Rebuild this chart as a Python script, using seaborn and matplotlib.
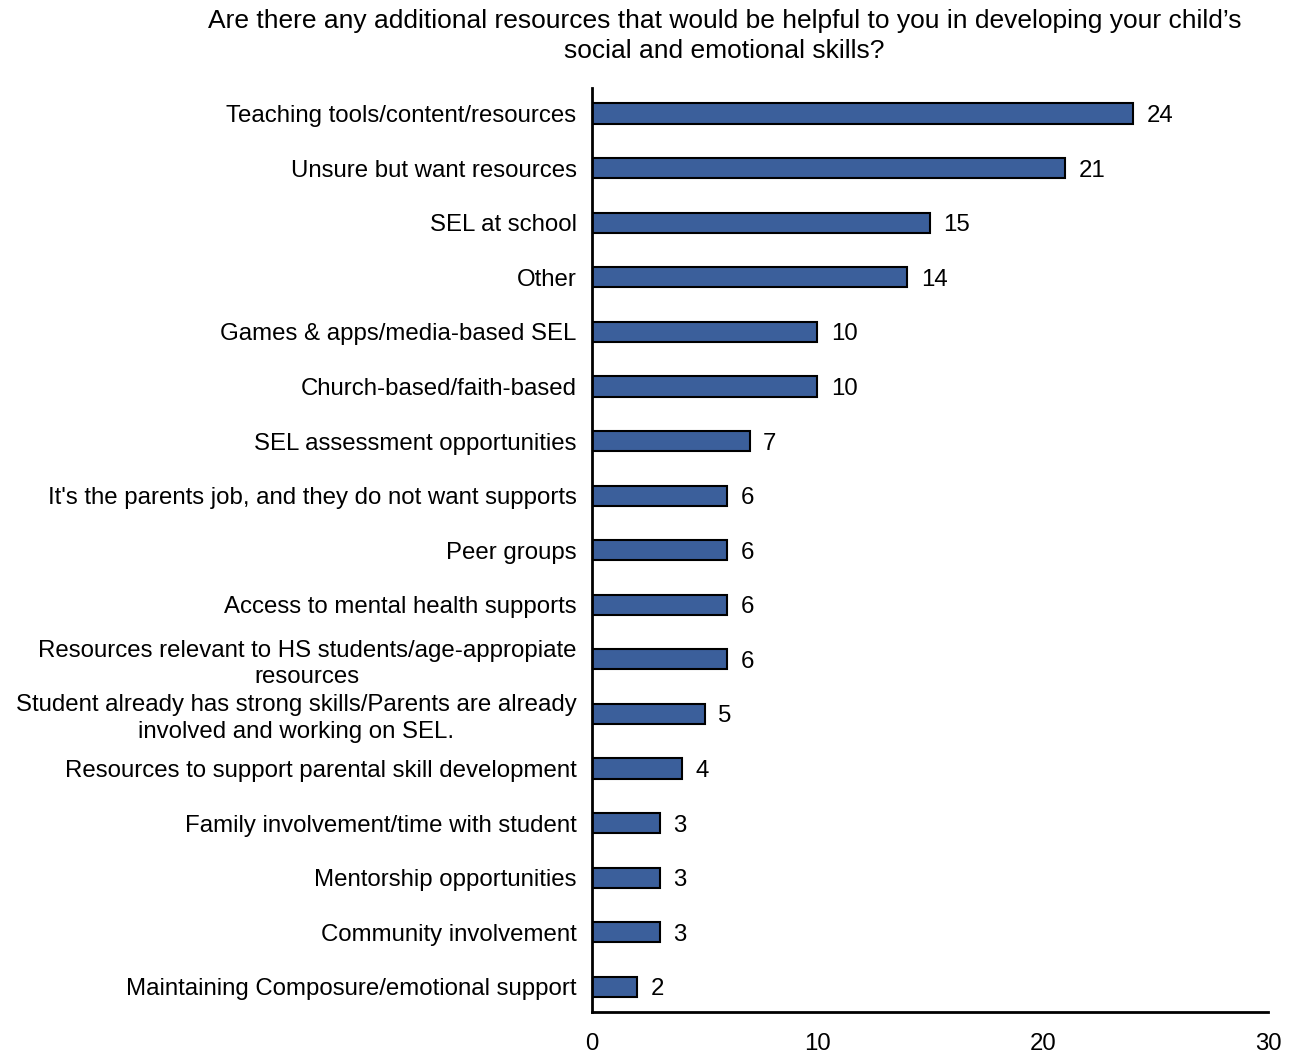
import matplotlib
matplotlib.use("Agg")
import matplotlib.pyplot as plt
import seaborn as sns
import pandas as pd

categories = [
    "Teaching tools/content/resources",
    "Unsure but want resources",
    "SEL at school",
    "Other",
    "Games & apps/media-based SEL",
    "Church-based/faith-based",
    "SEL assessment opportunities",
    "It's the parents job, and they do not want supports",
    "Peer groups",
    "Access to mental health supports",
    "Resources relevant to HS students/age-appropiate\nresources",
    "Student already has strong skills/Parents are already\ninvolved and working on SEL.",
    "Resources to support parental skill development",
    "Family involvement/time with student",
    "Mentorship opportunities",
    "Community involvement",
    "Maintaining Composure/emotional support",
]
counts = [24, 21, 15, 14, 10, 10, 7, 6, 6, 6, 6, 5, 4, 3, 3, 3, 2]
x_ticks = [0, 10, 20, 30]

title = ("Are there any additional resources that would be helpful to you in developing your child\u2019s\n"
         "social and emotional skills?")

sns.set_theme(style="white")
plt.rcParams["font.family"] = ["Liberation Sans", "DejaVu Sans"]
plt.rcParams["text.color"] = "black"
plt.rcParams["xtick.color"] = "black"
plt.rcParams["ytick.color"] = "black"

FS = 17.3

df = pd.DataFrame({"category": categories, "count": counts})

fig = plt.figure(figsize=(12.98, 10.53), dpi=100)
ax = fig.add_axes([0.456, 0.039, 0.521, 0.877])

sns.barplot(data=df, y="category", x="count", orient="h", color="#3B5F9B",
            edgecolor="black", linewidth=1.5, width=0.37, saturation=1, ax=ax)

for i, v in enumerate(counts):
    ax.text(v + 0.6, i, str(v), va="center_baseline", ha="left", fontsize=FS, color="black")

ax.set_xlim(0, 30)
ax.set_ylim(16.46, -0.46)
ax.set_xticks(x_ticks)
ax.set_xticklabels([str(t) for t in x_ticks], fontsize=FS, color="black")
ax.tick_params(axis="x", length=0, pad=15)
ax.tick_params(axis="y", length=0, pad=11)
for lbl in ax.get_yticklabels():
    lbl.set_fontsize(FS)
    lbl.set_color("black")
    lbl.set_multialignment("center")
    lbl.set_linespacing(1.25)
ax.set_xlabel("")
ax.set_ylabel("")

for side in ["top", "right"]:
    ax.spines[side].set_visible(False)
for side in ["left", "bottom"]:
    ax.spines[side].set_color("black")
    ax.spines[side].set_linewidth(2)

fig.text(0.558, 0.991, title, ha="center", va="top", fontsize=19, linespacing=1.3,
         color="black")

fig.savefig("out.png", dpi=100, facecolor="white")
